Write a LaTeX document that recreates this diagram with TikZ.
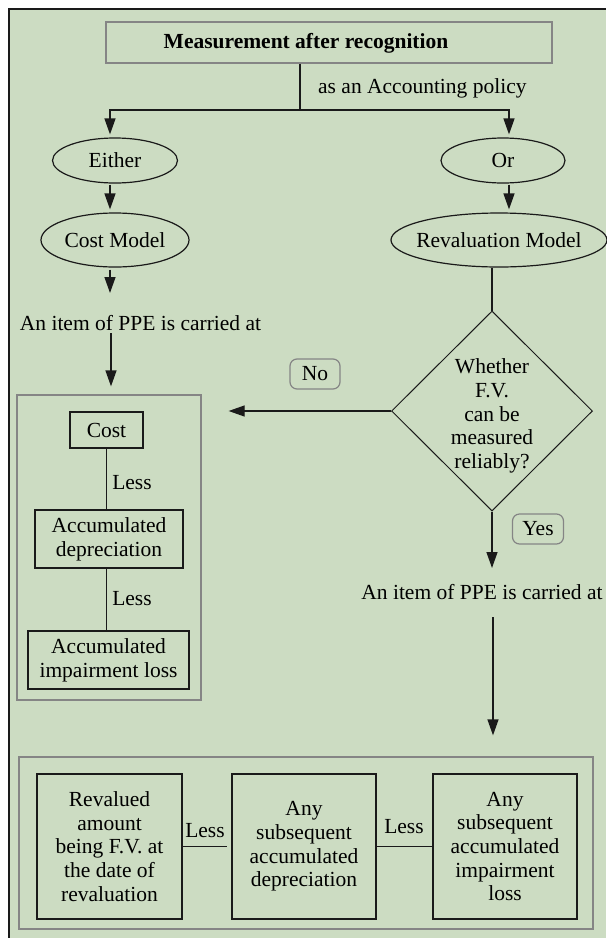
\documentclass[tikz,border=0pt]{standalone}
\usepackage{fontspec}
\setmainfont{Liberation Serif}
\usetikzlibrary{shapes.geometric,arrows.meta,calc}
\definecolor{bg}{HTML}{CCDCC2}
\definecolor{grayline}{HTML}{858585}
\definecolor{ink}{HTML}{1A1A1A}
\newcommand\dfont{\fontsize{21.5}{23.7}\selectfont}
\begin{document}
\begin{tikzpicture}[x=1pt,y=-1pt,font=\dfont,
  lbl/.style={inner sep=0pt},
  graybox/.style={draw=grayline,line width=1.3pt,inner sep=0pt},
  inbox/.style={draw=ink,line width=1.4pt,inner sep=0pt,align=center},
  oval/.style={ellipse,draw=ink,line width=1.2pt,inner sep=0pt},
  tagbox/.style={draw=grayline,rounded corners=7pt,line width=1.2pt,inner sep=0pt,minimum height=30pt},
  conn/.style={draw=ink,line width=1.3pt},
  arr/.style={draw=ink,line width=1.3pt,-{Triangle[length=16pt,width=11pt]}},
  decision/.style={diamond,draw=ink,line width=1pt,inner sep=0pt}]
\useasboundingbox (0,0) rectangle (606,938);
\fill[white] (0,0) rectangle (606,938);
\fill[bg] (9,9) rectangle (606,938);
\draw[ink,line width=1.3pt] (9,938) -- (9,9) -- (606,9);

% top
\node[graybox,minimum width=446pt,minimum height=41pt] (top) at (329,42.5) {};
\node[lbl,font=\dfont\bfseries] (title) at (306,43) {Measurement after recognition};
\node[lbl,anchor=west] (policy) at (318,88) {as an Accounting policy};
\coordinate (j) at (300,110);

% ellipses
\node[oval,minimum width=125pt,minimum height=45pt] (either) at (115,160.5) {};
\node[lbl] (eithert) at (either) {Either};
\node[oval,minimum width=124pt,minimum height=45pt] (or) at (503,160.5) {};
\node[lbl] (ort) at (or) {Or};
\node[oval,minimum width=148pt,minimum height=54pt] (cost) at (115,240) {};
\node[lbl] (costt) at (cost) {Cost Model};
\node[oval,minimum width=216pt,minimum height=54pt] (reval) at (499,240) {};
\node[lbl] (revalt) at (reval) {Revaluation Model};

% left branch
\node[lbl] (ltext) at (140.5,323) {An item of PPE is carried at};
\coordinate (la0) at (110,293);
\coordinate (la1) at (111,333);
\node[graybox,minimum width=184pt,minimum height=305pt] (lbox) at (109,547.5) {};
\node[inbox,minimum width=73pt,minimum height=36pt] (costb) at (106.5,430) {Cost};
\node[inbox,minimum width=148pt,minimum height=58pt] (accdep) at (109,539) {Accumulated\\depreciation};
\node[inbox,minimum width=161pt,minimum height=58pt] (accimp) at (108.5,660) {Accumulated\\impairment loss};
\node[lbl] (less1) at (132,483) {Less};
\node[lbl] (less2) at (132,599) {Less};

% decision
\node[decision,minimum width=201pt,minimum height=200pt] (dia) at (492,411) {};
\node[lbl,align=center] (diat) at (492,416) {Whether\\F.V.\\can be\\measured\\reliably?};
\node[tagbox,minimum width=50pt] (no) at (315,374) {No};
\node[tagbox,minimum width=51pt] (yes) at (538,529) {Yes};
\coordinate (ya) at (492,568);
\node[lbl] (rtext) at (482,592) {An item of PPE is carried at};
\coordinate (rb) at (493,617);

% bottom
\node[graybox,minimum width=574pt,minimum height=172pt] (bbox) at (306,843) {};
\node[inbox,minimum width=145pt,minimum height=145pt] (b1) at (109.5,846.5) {Revalued\\amount\\being F.V. at\\the date of\\revaluation};
\node[inbox,minimum width=144pt,minimum height=145pt] (b2) at (304,846.5) {Any\\subsequent\\accumulated\\depreciation};
\node[inbox,minimum width=144pt,minimum height=145pt] (b3) at (505,846.5) {Any\\subsequent\\accumulated\\impairment\\loss};
\node[lbl] (lessa) at (205,831) {Less};
\node[lbl] (lessb) at (404,827) {Less};

% connectors
\draw[conn] (top.south -| j) -- (j);
\draw[arr,shorten >=3pt] (j) -| ([xshift=-5pt]either.north);
\draw[arr,shorten >=3pt] (j) -| ([xshift=6pt]or.north);
\draw[arr,shorten <=1pt,shorten >=3pt] ([xshift=-5pt]either.south) -- ([xshift=-5pt]cost.north);
\draw[arr,shorten <=1pt,shorten >=3pt] ([xshift=6pt]or.south) -- ([xshift=6pt]or.south |- reval.north);
\draw[arr,shorten <=2pt] ([xshift=-5pt]cost.south) -- (la0);
\draw[arr,shorten >=8pt] (la1) -- (la1 |- lbox.north);
\draw[conn] (reval.south -| dia.north) -- (dia.north);
\draw[arr,shorten >=27pt] (dia.west) -- (dia.west -| lbox.east);
\draw[arr] (dia.south) -- (ya);
\draw[arr,shorten >=21pt] (rb) -- (rb |- bbox.north);
\draw[conn] (costb.south) -- (costb.south |- accdep.north);
\draw[conn] (accdep.south -| costb.south) -- (costb.south |- accimp.north);
\draw[conn,shorten >=4pt] (b1.east) -- (b2.west);
\draw[conn] (b2.east) -- (b3.west);
\end{tikzpicture}
\end{document}
